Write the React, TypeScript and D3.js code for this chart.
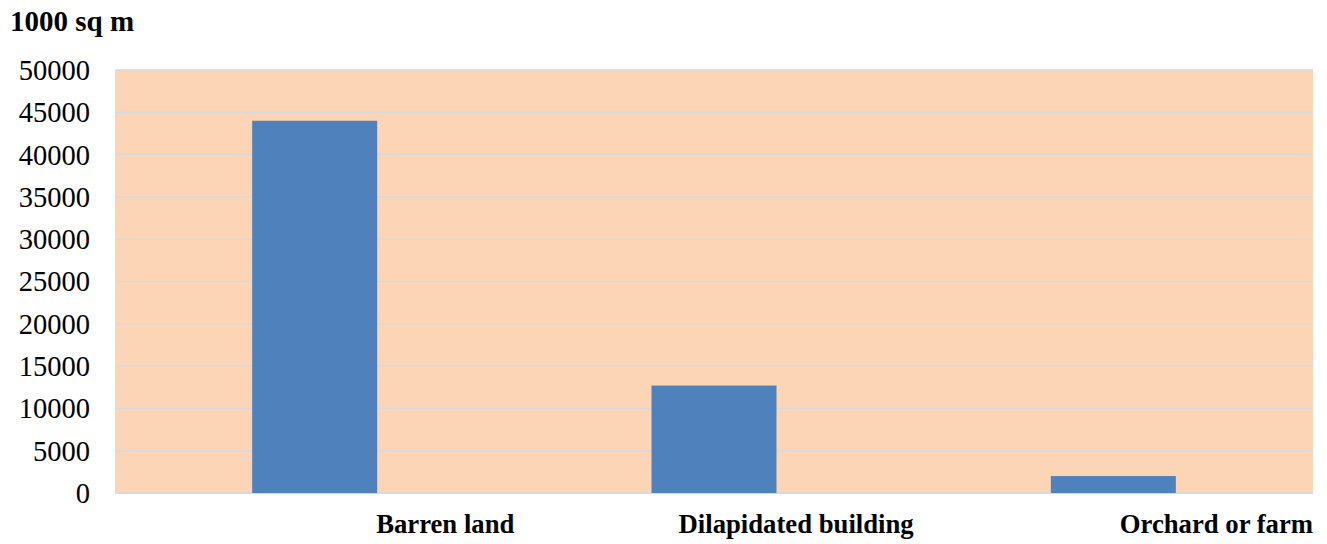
import React from 'react'
import * as d3 from 'd3'

const categories = ['Barren land', 'Dilapidated building', 'Orchard or farm']
const values = [44000, 12700, 2000]
const yTicks = [0, 5000, 10000, 15000, 20000, 25000, 30000, 35000, 40000, 45000, 50000]
const unitLabel = '1000 sq m'

const W = 1327
const H = 544
const margin = { top: 70, right: 14, bottom: 51, left: 115 }

const App: React.FC = () => {
  const x = d3.scaleBand<string>()
    .domain(categories)
    .range([margin.left, W - margin.right])
    .paddingInner(0)
    .paddingOuter(0)

  const y = d3.scaleLinear()
    .domain([0, 50000])
    .range([H - margin.bottom, margin.top])

  const bw = x.bandwidth() * 0.313
  const font = "'Liberation Serif', 'Times New Roman', serif"

  return (
    <svg width={W} height={H} style={{ position: 'absolute', left: 0, top: 0, background: '#fff' }}>
      <rect
        x={margin.left}
        y={y(50000)}
        width={W - margin.left - margin.right}
        height={y(0) - y(50000)}
        fill="#fbd5b5"
      />
      {yTicks.map(t => (
        <g key={t}>
          <line
            x1={margin.left}
            x2={W - margin.right}
            y1={y(t)}
            y2={y(t)}
            stroke="#d9d9d9"
            strokeWidth={t === 0 ? 2 : 1.5}
          />
          <text
            x={90}
            y={y(t)}
            dy="0.35em"
            textAnchor="end"
            style={{ fontFamily: font, fontSize: 28.5 }}
            fill="#000"
          >
            {t}
          </text>
        </g>
      ))}
      {categories.map((c, i) => {
        const cx = (x(c) || 0) + x.bandwidth() / 2
        return (
          <rect
            key={c}
            x={cx - bw / 2}
            y={y(values[i])}
            width={bw}
            height={y(0) - y(values[i])}
            fill="#4f81bd"
          />
        )
      })}
      {categories.map(c => (
        <text
          key={c}
          x={(x(c) || 0) + x.bandwidth()}
          y={533}
          textAnchor="end"
          style={{ fontFamily: font, fontSize: 26.7, fontWeight: 'bold' }}
          fill="#000"
        >
          {c}
        </text>
      ))}
      <text x={10} y={31} style={{ fontFamily: font, fontSize: 29, fontWeight: 'bold' }} fill="#000">
        {unitLabel}
      </text>
    </svg>
  )
}

export default App
